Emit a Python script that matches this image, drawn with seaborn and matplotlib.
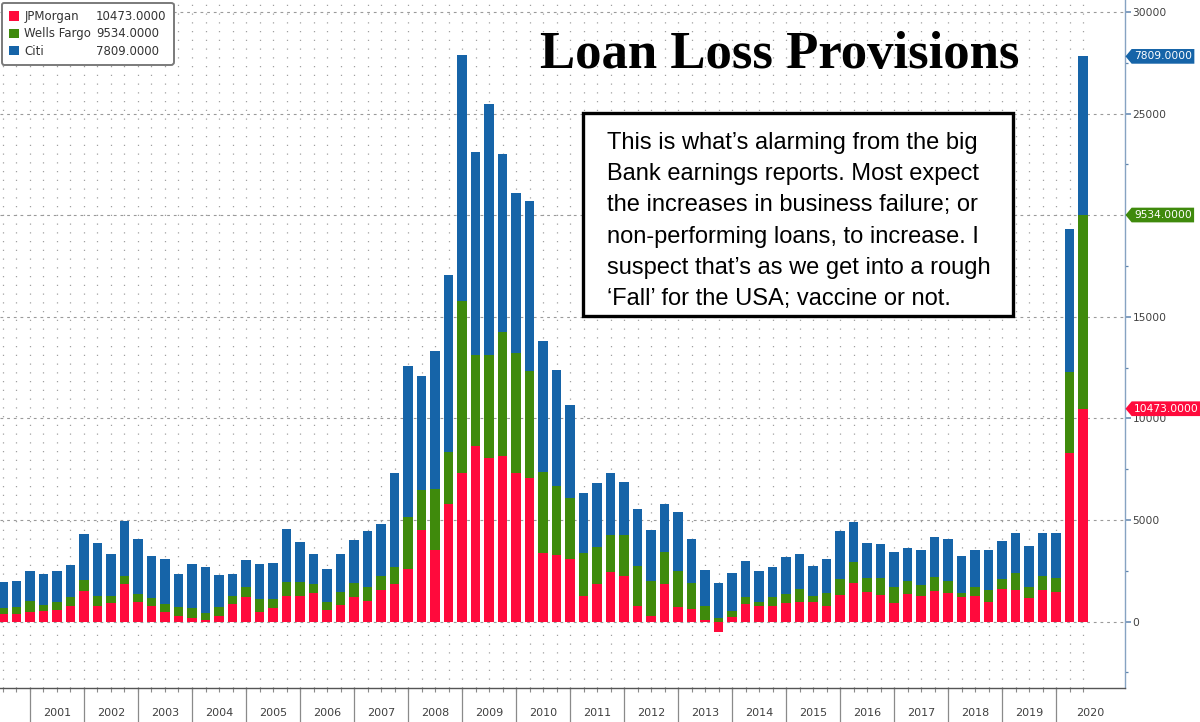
import numpy as np
import pandas as pd
import matplotlib
matplotlib.use("Agg")
import matplotlib.pyplot as plt
import matplotlib.transforms as mtransforms
from matplotlib.patches import Patch, Rectangle
from matplotlib.path import Path
from matplotlib.ticker import MultipleLocator
import seaborn as sns

# ---------------- data (USD mn, quarterly, Q2 2000 .. Q2 2020) ----------------
quarters = [str(p) for p in pd.period_range("2000Q2", "2020Q2", freq="Q")]

jpm = [350, 350, 450, 520, 570, 780, 1500, 780, 890, 1860,
       960, 780, 450, 270, 160, 50, 270, 860, 1220, 450,
       650, 1250, 1250, 1420, 570, 810, 1190, 1000, 1550, 1850,
       2570, 4480, 3520, 5800, 7310, 8650, 8060, 8150, 7310, 7040,
       3390, 3280, 3090, 1250, 1840, 2450, 2240, 780, 290, 1840,
       700, 630, 70, -540, 240, 860, 760, 760, 890, 980,
       980, 760, 1300, 1880, 1470, 1300, 890, 1340, 1250, 1520,
       1390, 1220, 1250, 980, 1600, 1550, 1170, 1550, 1440, 8285,
       10473]

wells = [300, 380, 550, 290, 410, 440, 540, 470, 360, 390,
         390, 390, 410, 460, 490, 350, 430, 390, 460, 640,
         440, 710, 710, 410, 410, 630, 690, 680, 700, 840,
         2580, 1980, 3000, 2530, 8470, 4480, 5070, 6110, 5890, 5270,
         3980, 3410, 3010, 2140, 1840, 1800, 2010, 1970, 1720, 1560,
         1790, 1250, 690, 160, 280, 360, 220, 430, 450, 600,
         290, 630, 810, 1050, 650, 820, 820, 650, 550, 680,
         600, 170, 430, 570, 490, 820, 510, 700, 720, 4005,
         9534]

citi = [1280, 1260, 1470, 1510, 1490, 1560, 2280, 2590, 2070, 2710,
        2690, 2050, 2210, 1590, 2190, 2300, 1570, 1070, 1340, 1750,
        1800, 2590, 1930, 1490, 1590, 1880, 2110, 2790, 2550, 4620,
        7420, 5600, 6810, 8740, 12090, 10000, 12330, 8740, 7870, 8410,
        6450, 5690, 4570, 2930, 3150, 3070, 2630, 2800, 2490, 2390,
        2910, 2200, 1790, 1720, 1850, 1760, 1520, 1510, 1820, 1740,
        1460, 1670, 2360, 1960, 1760, 1690, 1720, 1610, 1720, 1970,
        2050, 1830, 1820, 1950, 1880, 1970, 2060, 2090, 2180, 7027,
        7809]

series_names = ["JPMorgan", "Wells Fargo", "Citi"]
years = [str(y) for y in range(2001, 2021)]
ytick_vals = [0, 5000, 10000, 15000, 20000, 25000, 30000]
# the 20000 label is hidden behind the Wells Fargo value tag in the original
ytick_labels = ["0", "5000", "10000", "15000", "", "25000", "30000"]

title = "Loan Loss Provisions"
note_lines = [
    "This is what\u2019s alarming from the big",
    "Bank earnings reports. Most expect",
    "the increases in business failure; or",
    "non-performing loans, to increase. I",
    "suspect that\u2019s as we get into a rough",
    "\u2018Fall\u2019 for the USA; vaccine or not.",
]

RED, GREEN, BLUE = "#ff0a3c", "#3f8a0c", "#1664a8"

# ---------------- stacking levels ----------------
df = pd.DataFrame({"q": quarters, "jpm": jpm, "wells": wells, "citi": citi})
df["red_top"] = df["jpm"]
df["green_top"] = df["jpm"].clip(lower=0) + df["wells"]
df["blue_top"] = df["green_top"] + df["citi"]

# ---------------- figure ----------------
sns.set_theme(style="white")
plt.rcParams["font.family"] = ["DejaVu Sans"]

W, H = 1200, 722
fig = plt.figure(figsize=(W / 100, H / 100), dpi=100)
ax_right_px, ax_bottom_px = 1125, 688
ax = fig.add_axes([0, 1 - ax_bottom_px / H, ax_right_px / W, ax_bottom_px / H])

for col, colr in (("blue_top", BLUE), ("green_top", GREEN), ("red_top", RED)):
    sns.barplot(data=df, x="q", y=col, color=colr, saturation=1, width=0.69,
                errorbar=None, linewidth=0, edgecolor="none", ax=ax, zorder=3)

xmin, xmax = -0.222, 83.11
ax.set_xlim(xmin, xmax)
ax.set_ylim(-3273, 30590)
ax.set_xlabel("")
ax.set_ylabel("")
ax.set_axisbelow(True)

n = len(quarters)
year_seps = [i for i, q in enumerate(quarters) if q.endswith("Q4")]
ax.xaxis.remove_overlapping_locs = False
ax.set_xticks(year_seps, labels=[""] * len(year_seps))
ax.set_xticks(range(n), minor=True)
ax.tick_params(axis="x", which="both", bottom=True, top=False)
ax.tick_params(axis="x", which="major", length=24.5, width=0.9, color="#8a8a8a",
               direction="out")
ax.tick_params(axis="x", which="minor", length=2.8, width=0.8, color="#8a8a8a",
               direction="out")
ax.grid(which="minor", axis="x", color="#a0a0a0", linestyle=(0, (1, 6)), lw=0.9)

ax.yaxis.tick_right()
ax.set_yticks(ytick_vals, labels=ytick_labels)
ax.yaxis.set_minor_locator(MultipleLocator(2500))
ax.tick_params(axis="y", which="both", right=True, left=False)
ax.tick_params(axis="y", which="major", length=4, width=1.1, color="#5f84ad",
               labelcolor="#404040", labelsize=7.7, pad=1.5, direction="out")
ax.tick_params(axis="y", which="minor", length=2.5, width=0.9, color="#5f84ad",
               direction="out")
ax.grid(which="major", axis="y", color="#9a9a9a", linestyle=(0, (2.5, 3.5)), lw=0.8)

for s in ("top", "left"):
    ax.spines[s].set_visible(False)
ax.spines["right"].set_color("#86a3c2")
ax.spines["right"].set_linewidth(1.0)
ax.spines["bottom"].set_color("#555555")
ax.spines["bottom"].set_linewidth(1.0)

# year labels in cells below the axis
xt = ax.get_xaxis_transform()
for k, yr in enumerate(years):
    left = year_seps[k]
    right = left + 4 if k < len(years) - 1 else xmax
    ax.text((left + right) / 2, -25 / ax_bottom_px, yr, transform=xt,
            ha="center", va="center", fontsize=8, color="#404040", clip_on=False)

# value tags on the right axis
def tag_box(x0, y0, width, height, mutation_size):
    pad = 0.22 * mutation_size
    x0 -= pad
    y0 -= pad
    w = width + 2 * pad
    h = height + 2 * pad
    tip = 0.42 * h
    verts = [(x0, y0), (x0 + w, y0), (x0 + w, y0 + h), (x0, y0 + h),
             (x0 - tip, y0 + h / 2), (x0, y0)]
    return Path(verts, closed=True)

last = df.iloc[-1]
tr = mtransforms.blended_transform_factory(ax.transAxes, ax.transData)
for top, val, colr in ((last["blue_top"], citi[-1], BLUE),
                       (last["green_top"], wells[-1], GREEN),
                       (last["red_top"], jpm[-1], RED)):
    ax.text(1134 / ax_right_px, top, f"{val:.4f}", transform=tr, ha="left",
            va="center", fontsize=7.7, color="white", clip_on=False, zorder=10,
            bbox=dict(boxstyle=tag_box, fc=colr, ec="none"))

# legend
handles = [Patch(fc=RED, ec="none"), Patch(fc=GREEN, ec="none"), Patch(fc=BLUE, ec="none"),
           Patch(fc="none", ec="none"), Patch(fc="none", ec="none"), Patch(fc="none", ec="none")]
labels = series_names + [f"{jpm[-1]:.4f}", f"{wells[-1]:.4f}", f"{citi[-1]:.4f}"]
leg = fig.legend(handles, labels, loc="upper left", bbox_to_anchor=(2 / W, 1 - 3 / H),
                 ncol=2, fontsize=8.5, handlelength=0.85, handleheight=0.85,
                 handletextpad=0.45, columnspacing=-0.9, labelspacing=0.36,
                 borderpad=0.6, fancybox=True, framealpha=1, borderaxespad=0)
leg.get_frame().set_edgecolor("#7a7a7a")
leg.get_frame().set_linewidth(1.4)
for t in leg.get_texts():
    t.set_color("#333333")

# title
fig.text(780 / W, 1 - 68 / H, title, ha="center", va="baseline", fontsize=38,
         fontweight="bold", family="Liberation Serif", color="black")

# note box
fig.patches.append(Rectangle((583 / W, 1 - 316 / H), 430 / W, 203 / H,
                             transform=fig.transFigure, fc="white", ec="black",
                             lw=2.4, zorder=5))
for i, line in enumerate(note_lines):
    fig.text(607 / W, 1 - (149 + 31.2 * i) / H, line, ha="left", va="baseline",
             fontsize=17, family="Liberation Sans", color="black", zorder=6)

fig.savefig("out.png", dpi=100)
